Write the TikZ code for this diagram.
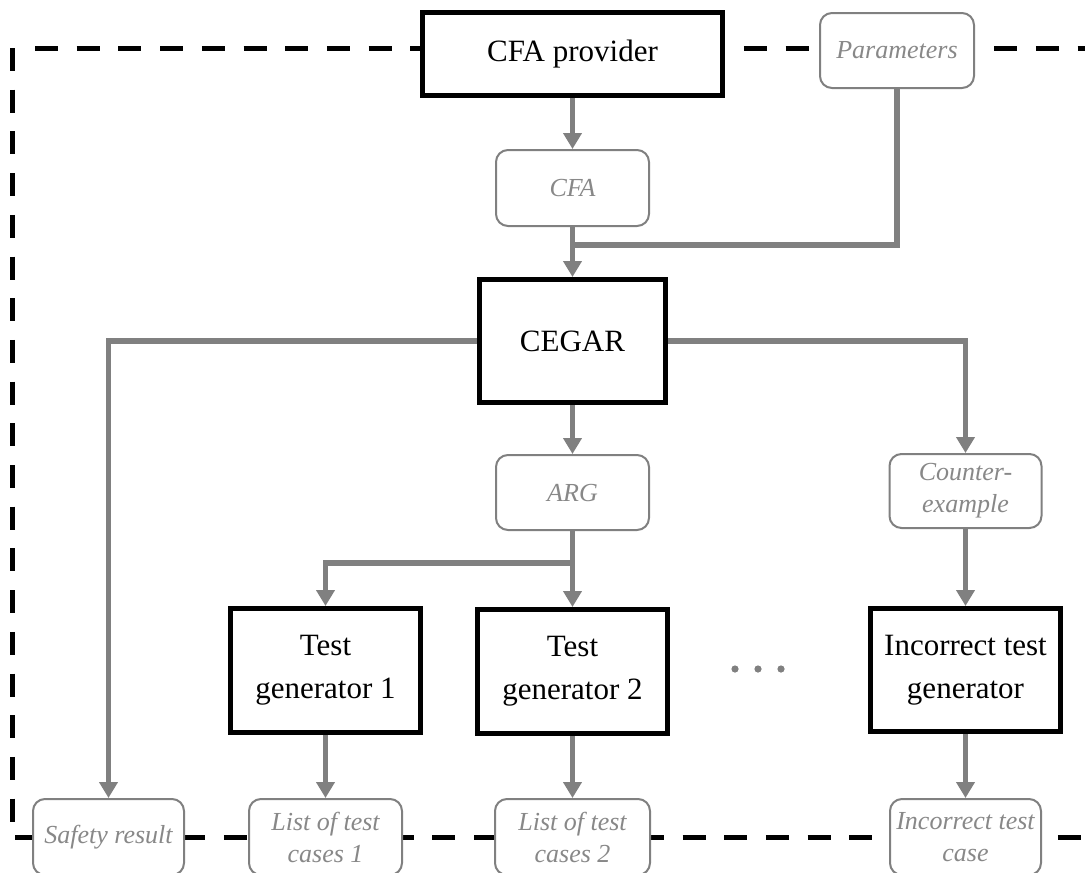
\documentclass[tikz,border=0pt]{standalone}
\usepackage{fontspec}
\setmainfont{Liberation Serif}
\usetikzlibrary{arrows.meta}
\definecolor{flowgray}{RGB}{128,128,128}
\definecolor{labelgray}{RGB}{136,136,136}

\begin{document}
\begin{tikzpicture}[x=1pt,y=-1pt,
  proc/.style={draw=black, line width=5pt, fill=white, inner sep=0pt, align=center,
    font=\fontsize{31}{43}\selectfont},
  data/.style={draw=flowgray, line width=2pt, fill=white, rounded corners=12pt, inner sep=0pt,
    align=center, text=labelgray, font=\fontsize{26}{32}\selectfont\itshape,
    minimum width=153pt, minimum height=75pt},
  flow/.style={draw=flowgray, line width=5.5pt, -{Triangle[width=18pt,length=16pt]}},
  link/.style={draw=flowgray, line width=5.5pt},
  border/.style={draw=black, line width=5pt, dash pattern=on 23pt off 18.7pt}]

\useasboundingbox (0,0) rectangle (1085,873);
\clip (0,0) rectangle (1085,873);

% dashed system boundary
\draw[border] (35,48) -- (1110,48);
\draw[border] (12,48) -- (12,837) -- (1110,837);

% components
\node[proc, minimum width=300pt, minimum height=83pt] (prov) at (572.5,54) {CFA provider};
\node[proc, minimum width=186pt, minimum height=123pt] (cegar) at (572.5,341) {CEGAR};
\node[proc, minimum width=190pt, minimum height=124pt] (tg1) at (325.5,670.5) {Test\\generator 1};
\node[proc, minimum width=190pt, minimum height=124pt] (tg2) at (572.5,671.5) {Test\\generator 2};
\node[proc, minimum width=190pt, minimum height=123pt] (itg) at (965.5,670) {Incorrect test\\generator};

% artefacts
\node[data, minimum width=154pt] (params) at (897,50.5) {Parameters};
\node[data, minimum height=76pt] (cfa) at (572.5,188) {CFA};
\node[data] (arg) at (572.5,492.5) {ARG};
\node[data, minimum width=152pt, minimum height=74pt] (cex) at (965.5,491) {Counter-\\example};
\node[data, minimum width=151pt, minimum height=76pt] (safety) at (108.5,837) {Safety result};
\node[data, minimum height=76pt] (lt1) at (325.5,837) {List of test\\cases 1};
\node[data, minimum width=155pt, minimum height=76pt] (lt2) at (572.5,837) {List of test\\cases 2};
\node[data, minimum width=151pt, minimum height=76pt] (itc) at (965.5,837) {Incorrect test\\case};

% junction points
\coordinate (j1) at (572.5,245);
\coordinate (j2) at (572.5,563);

% data flow
\draw[flow] (prov.south) -- (cfa.north);
\draw[link] (params.south) |- (j1);
\draw[flow] (cfa.south) -- (cegar.north);
\draw[flow] (cegar.west) -| (safety.north);
\draw[flow] (cegar.east) -| (cex.north);
\draw[flow] (cegar.south) -- (arg.north);
\draw[flow] (arg.south) -- (tg2.north);
\draw[flow] (j2) -| (tg1.north);
\draw[flow] (cex.south) -- (itg.north);
\draw[flow] (tg1.south) -- (lt1.north);
\draw[flow] (tg2.south) -- (lt2.north);
\draw[flow] (itg.south) -- (itc.north);

% ellipsis between generators
\foreach \x in {735,758,781}
  \fill[flowgray] (\x,669) circle (3.6pt);
\end{tikzpicture}
\end{document}
